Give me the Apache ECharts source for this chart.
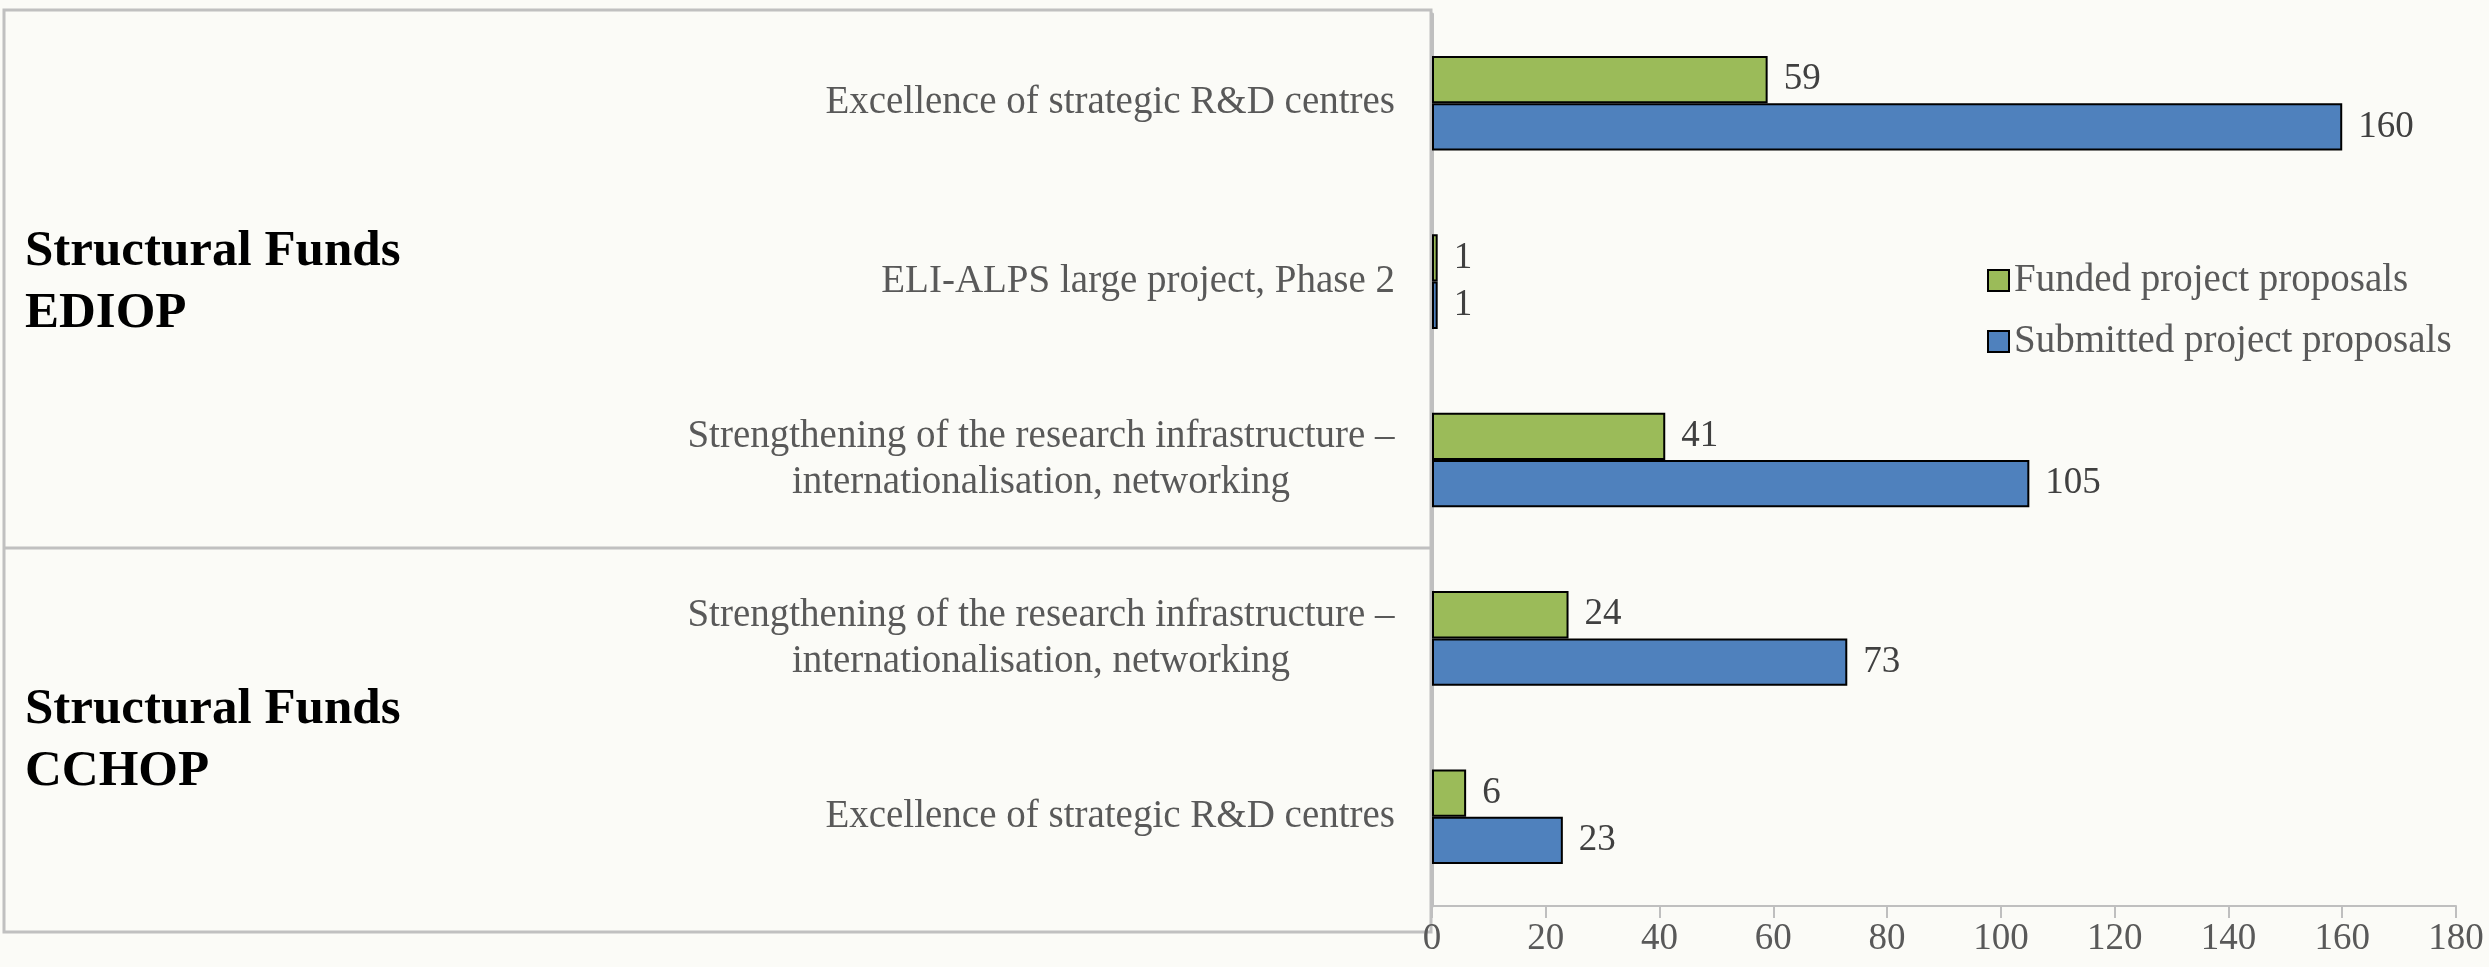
<!DOCTYPE html>
<html>
<head>
<meta charset="utf-8">
<script src="https://cdn.jsdelivr.net/npm/echarts@6/dist/echarts.min.js"></script>
<style>
  html, body { margin: 0; padding: 0; background: #fbfbf7; }
  #chart { width: 2489px; height: 967px; }
</style>
</head>
<body>
<div id="chart"></div>
<script>
    // data
    var categories = [
        'Excellence of strategic R&D centres',
        'ELI-ALPS large project, Phase 2',
        'Strengthening of the research infrastructure –\ninternationalisation, networking',
        'Strengthening of the research infrastructure –\ninternationalisation, networking',
        'Excellence of strategic R&D centres'
    ];
    var funded = [59, 1, 41, 24, 6];
    var submitted = [160, 1, 105, 73, 23];
    var seriesNames = ['Funded project proposals', 'Submitted project proposals'];
    var groupTitles = [['Structural Funds', 'EDIOP'], ['Structural Funds', 'CCHOP']];

    var serif = '"Liberation Serif", "DejaVu Serif", serif';
    var labelSize = 39;

    // width of the longest wrapped line, so the two lines can be centred on each other
    var ctx = document.createElement('canvas').getContext('2d');
    ctx.font = labelSize + 'px ' + serif;
    var wrapWidth = 0;
    categories.forEach(function (c) {
        if (c.indexOf('\n') >= 0) {
            c.split('\n').forEach(function (l) {
                wrapWidth = Math.max(wrapWidth, Math.ceil(ctx.measureText(l).width));
            });
        }
    });

    var chart = echarts.init(document.getElementById('chart'));

    var barLabel = {
        show: true,
        position: 'right',
        distance: 16,
        color: '#404040',
        fontFamily: serif,
        fontSize: 37
    };

    var option = {
        backgroundColor: '#fbfbf7',
        animation: false,
        grid: { left: 1432, right: 33, top: 14, bottom: 61, containLabel: false },
        legend: {
            orient: 'vertical',
            left: 1982,
            top: 256,
            itemWidth: 21,
            itemHeight: 21,
            itemGap: 22,
            icon: 'rect',
            data: seriesNames,
            textStyle: { color: '#595959', fontFamily: serif, fontSize: 39 }
        },
        xAxis: {
            type: 'value',
            min: 0,
            max: 180,
            interval: 20,
            splitLine: { show: false },
            axisLine: { show: true, lineStyle: { color: '#bfbfbf', width: 2 } },
            axisTick: { show: true, length: 12, lineStyle: { color: '#bfbfbf', width: 2 } },
            axisLabel: { color: '#595959', fontFamily: serif, fontSize: 37, margin: 15 }
        },
        yAxis: {
            type: 'category',
            inverse: true,
            data: categories,
            axisLine: { show: true, lineStyle: { color: '#bfbfbf', width: 3 } },
            axisTick: { show: false },
            axisLabel: {
                color: '#595959',
                fontFamily: serif,
                fontSize: labelSize,
                margin: 37,
                formatter: function (v) {
                    if (v.indexOf('\n') < 0) return v;
                    return v.split('\n').map(function (l) { return '{w|' + l + '}'; }).join('\n');
                },
                rich: {
                    w: {
                        width: wrapWidth,
                        align: 'center',
                        color: '#595959',
                        fontFamily: serif,
                        fontSize: labelSize,
                        lineHeight: 46
                    }
                }
            }
        },
        series: [
            {
                name: seriesNames[0],
                type: 'bar',
                data: funded,
                barGap: '0%',
                barCategoryGap: '47%',
                itemStyle: { color: '#9bbb59', borderColor: '#000000', borderWidth: 2 },
                label: barLabel
            },
            {
                name: seriesNames[1],
                type: 'bar',
                data: submitted,
                barGap: '0%',
                barCategoryGap: '47%',
                itemStyle: { color: '#4f81bd', borderColor: '#000000', borderWidth: 2 },
                label: barLabel
            }
        ],
        graphic: [
            {
                type: 'rect',
                shape: { x: 4, y: 10, width: 1427, height: 922 },
                style: { fill: null, stroke: '#c0c0c0', lineWidth: 3 },
                z: -1
            },
            {
                type: 'line',
                shape: { x1: 4, y1: 548, x2: 1431, y2: 548 },
                style: { stroke: '#c0c0c0', lineWidth: 3 },
                z: -1
            },
            {
                type: 'text',
                left: 25,
                top: 221,
                style: {
                    text: groupTitles[0].join('\n'),
                    fill: '#000000',
                    font: 'bold 51px ' + serif,
                    lineHeight: 62
                }
            },
            {
                type: 'text',
                left: 25,
                top: 679,
                style: {
                    text: groupTitles[1].join('\n'),
                    fill: '#000000',
                    font: 'bold 51px ' + serif,
                    lineHeight: 62
                }
            }
        ]
    };

    chart.setOption(option);
</script>
</body>
</html>
